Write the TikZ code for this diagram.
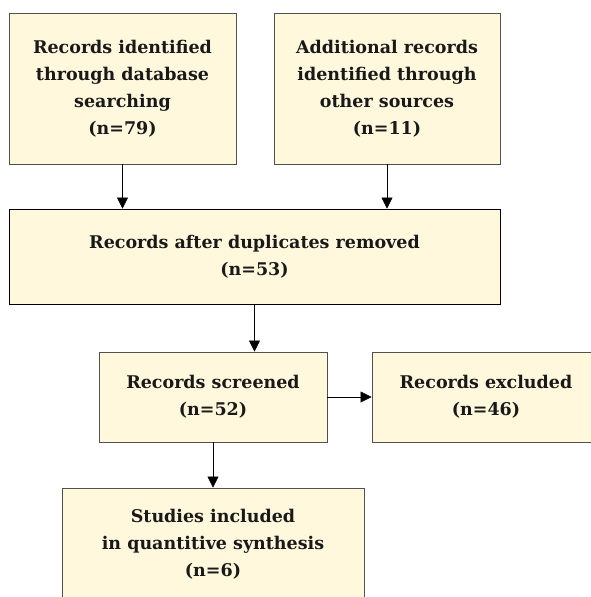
\documentclass[tikz,border=0pt]{standalone}
\usepackage{fontspec}
\setmainfont{DejaVu Serif}
\usetikzlibrary{arrows.meta}
\definecolor{boxfill}{HTML}{FFF8DC}
\definecolor{boxline}{HTML}{505050}
\begin{document}
\begin{tikzpicture}[x=1pt,y=-1pt,>={Triangle[length=11pt,width=11pt]},
    box/.style={draw=boxline,fill=boxfill,line width=0.9pt,align=center,inner sep=0,
      font=\fontsize{17.5}{27}\selectfont\bfseries,text=black!90}]
    \useasboundingbox (0,0) rectangle (590,597);
    \path (122.5,88.5) node [box,minimum width=227pt,minimum height=151pt](ident){Records identified\\through database\\searching\\(n=79)};
    \path (387,88.5) node [box,minimum width=226pt,minimum height=151pt](other){Additional records\\identified through\\other sources\\(n=11)};
    \path (254.5,256.5) node [box,draw=black,minimum width=491pt,minimum height=95pt](dupl){Records after duplicates removed\\(n=53)};
    \path (213,397) node [box,minimum width=228pt,minimum height=90pt](screen){Records screened\\(n=52)};
    \path (486,397) node [box,minimum width=228pt,minimum height=90pt](excl){Records excluded\\(n=46)};
    \path (213,544) node [box,minimum width=302pt,minimum height=112pt](incl){Studies included\\in quantitive synthesis\\(n=6)};
    \draw[->] (ident) -- (ident.south |- dupl.north);
    \draw[->] (other) -- (other.south |- dupl.north);
    \draw[->] (dupl) -- (dupl.south |- screen.north);
    \draw[->] (screen) -- (excl);
    \draw[->] (screen) -- (incl);
  \end{tikzpicture}
\end{document}
